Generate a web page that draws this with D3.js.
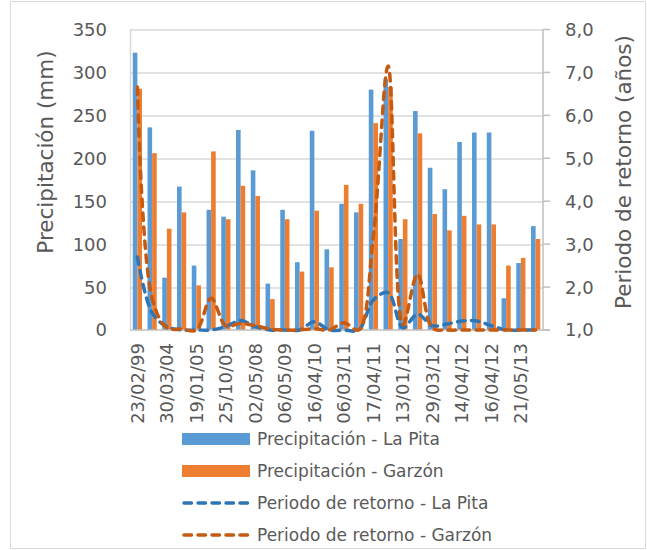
<!DOCTYPE html>
<html>
<head>
<meta charset="utf-8">
<script src="https://cdn.jsdelivr.net/npm/d3@7"></script>
<style>
  body { margin: 0; background: #fff; }
  text { font-family: "DejaVu Sans", sans-serif; fill: #595959; }
</style>
</head>
<body>
<svg width="647" height="550"></svg>
<script>
const width = 647;
const height = 550;

// only every other category carries a visible label in the chart
const dateLabels = ["23/02/99", "30/03/04", "19/01/05", "25/10/05", "02/05/08", "06/05/09", "16/04/10",
  "06/03/11", "17/04/11", "13/01/12", "29/03/12", "14/04/12", "16/04/12", "21/05/13"];

const precipLaPita = [323, 236, 61, 167, 75, 140, 132, 233, 186, 54, 140, 79, 232, 94,
  147, 137, 280, 292, 106, 255, 189, 164, 219, 230, 230, 37, 78, 121];
const precipGarzon = [281, 206, 118, 137, 52, 208, 129, 168, 156, 36, 129, 68, 139, 73,
  169, 147, 241, 283, 129, 229, 135, 116, 133, 123, 123, 75, 84, 106];

const retornoLaPita = [2.7, 1.4, 1.08, 1.0, 1.0, 1.0, 1.08, 1.22, 1.08, 1.0, 1.0, 1.0, 1.19, 1.0,
  1.0, 1.0, 1.7, 1.87, 1.05, 1.37, 1.1, 1.14, 1.21, 1.21, 1.1, 1.0, 1.0, 1.0];
const retornoGarzon = [6.66, 1.74, 1.05, 1.02, 1.0, 1.74, 1.1, 1.15, 1.1, 1.02, 1.0, 1.0, 1.03, 1.0,
  1.17, 1.0, 3.2, 7.15, 1.12, 2.3, 1.05, 1.0, 1.0, 1.0, 1.0, 1.0, 1.0, 1.0];

const leftTicks = [0, 50, 100, 150, 200, 250, 300, 350];
const rightTicks = [1, 2, 3, 4, 5, 6, 7, 8];

const colors = {
  barBlue: "#5B9BD5",
  barOrange: "#ED7D31",
  lineBlue: "#2E75B6",
  lineOrange: "#C55A11"
};

const margin = { top: 29.5, right: 104, bottom: 220, left: 130 };
const plotW = width - margin.left - margin.right;
const plotH = height - margin.top - margin.bottom;

const svg = d3.select("svg");

// chart border
svg.append("rect")
    .attr("x", 10.5).attr("y", 1.5)
    .attr("width", 635).attr("height", 547)
    .attr("fill", "none")
    .attr("stroke", "#D9D9D9");

const g = svg.append("g")
    .attr("transform", `translate(${margin.left},${margin.top})`);

const idx = d3.range(precipLaPita.length);

const x = d3.scaleBand()
    .domain(idx)
    .range([0, plotW]);

const bw = 4.6;

const y = d3.scaleLinear()
    .domain([0, 350])
    .range([plotH, 0]);

const y2 = d3.scaleLinear()
    .domain([1, 8])
    .range([plotH, 0]);

// gridlines
g.append("g")
  .selectAll("line")
  .data(leftTicks.slice(1))
  .join("line")
    .attr("x1", 0).attr("x2", plotW)
    .attr("y1", d => Math.round(y(d)) + 0.5)
    .attr("y2", d => Math.round(y(d)) + 0.5)
    .attr("stroke", "#D9D9D9")
    .attr("stroke-width", 1.5);

// bars
const cx = i => x(i) + x.bandwidth() / 2;

g.append("g")
    .attr("fill", colors.barBlue)
  .selectAll("rect")
  .data(precipLaPita)
  .join("rect")
    .attr("x", (d, i) => cx(i) - bw)
    .attr("y", d => y(d))
    .attr("width", bw)
    .attr("height", d => plotH - y(d));

g.append("g")
    .attr("fill", colors.barOrange)
  .selectAll("rect")
  .data(precipGarzon)
  .join("rect")
    .attr("x", (d, i) => cx(i))
    .attr("y", d => y(d))
    .attr("width", bw)
    .attr("height", d => plotH - y(d));

// axis lines
g.append("line")
    .attr("x1", 0.5).attr("x2", 0.5)
    .attr("y1", 0).attr("y2", plotH)
    .attr("stroke", "#D9D9D9").attr("stroke-width", 1.5);
g.append("line")
    .attr("x1", 0).attr("x2", plotW + 7)
    .attr("y1", plotH).attr("y2", plotH)
    .attr("stroke", "#BFBFBF").attr("stroke-width", 1.5);

// return period lines
const line = d3.line()
    .x((d, i) => cx(i))
    .y(d => y2(d))
    .curve(d3.curveCatmullRom.alpha(0.5));

[[retornoLaPita, colors.lineBlue], [retornoGarzon, colors.lineOrange]].forEach(([data, c]) => {
  g.append("path")
      .datum(data)
      .attr("d", line)
      .attr("fill", "none")
      .attr("stroke", c)
      .attr("stroke-width", 3.5)
      .attr("stroke-dasharray", "7.5 6.5")
      .attr("stroke-linecap", "round");
});

// left axis labels
g.append("g")
  .selectAll("text")
  .data(leftTicks)
  .join("text")
    .attr("x", -23)
    .attr("y", d => y(d))
    .attr("dy", "0.36em")
    .attr("text-anchor", "end")
    .attr("font-size", 18)
    .text(d => d);

// right axis
const right = g.append("g")
    .attr("transform", `translate(${plotW},0)`);
right.append("line")
    .attr("x1", 0).attr("x2", 0)
    .attr("y1", 0).attr("y2", plotH)
    .attr("stroke", "#BFBFBF").attr("stroke-width", 1.5);
right.selectAll(".tk")
  .data(rightTicks)
  .join("line")
    .attr("class", "tk")
    .attr("x1", 0).attr("x2", 7)
    .attr("y1", d => y2(d)).attr("y2", d => y2(d))
    .attr("stroke", "#BFBFBF").attr("stroke-width", 1.5);
right.selectAll("text")
  .data(rightTicks)
  .join("text")
    .attr("x", 22)
    .attr("y", d => y2(d))
    .attr("dy", "0.36em")
    .attr("font-size", 18)
    .text(d => d3.format(".1f")(d).replace(".", ","));

// x labels, every second category
g.append("g")
  .selectAll("text")
  .data(dateLabels)
  .join("text")
    .attr("transform", (d, i) => `translate(${cx(i * 2)},${plotH + 13}) rotate(-90)`)
    .attr("dy", "0.36em")
    .attr("text-anchor", "end")
    .attr("font-size", 18)
    .text(d => d);

// axis titles
svg.append("text")
    .attr("transform", "translate(45,152) rotate(-90)")
    .attr("dy", "0.36em")
    .attr("text-anchor", "middle")
    .attr("font-size", 21.5)
    .text("Precipitación (mm)");

svg.append("text")
    .attr("transform", "translate(623,172) rotate(-90)")
    .attr("dy", "0.36em")
    .attr("text-anchor", "middle")
    .attr("font-size", 21.5)
    .text("Periodo de retorno (años)");

// legend
const legendItems = [
  { name: "Precipitación - La Pita", type: "bar", color: colors.barBlue },
  { name: "Precipitación - Garzón", type: "bar", color: colors.barOrange },
  { name: "Periodo de retorno - La Pita", type: "line", color: colors.lineBlue },
  { name: "Periodo de retorno - Garzón", type: "line", color: colors.lineOrange }
];

const legend = svg.append("g")
  .selectAll("g")
  .data(legendItems)
  .join("g")
    .attr("transform", (d, i) => `translate(182,${439 + i * 32})`);

legend.filter(d => d.type === "bar")
  .append("rect")
    .attr("x", 0).attr("y", -6)
    .attr("width", 68).attr("height", 12)
    .attr("fill", d => d.color);

legend.filter(d => d.type === "line")
  .append("line")
    .attr("x1", 2).attr("x2", 67)
    .attr("y1", 0).attr("y2", 0)
    .attr("stroke", d => d.color)
    .attr("stroke-width", 3.5)
    .attr("stroke-dasharray", "7.5 6.5")
    .attr("stroke-linecap", "round");

legend.append("text")
    .attr("x", 75)
    .attr("dy", "0.36em")
    .attr("font-size", 17)
    .text(d => d.name);
</script>
</body>
</html>
